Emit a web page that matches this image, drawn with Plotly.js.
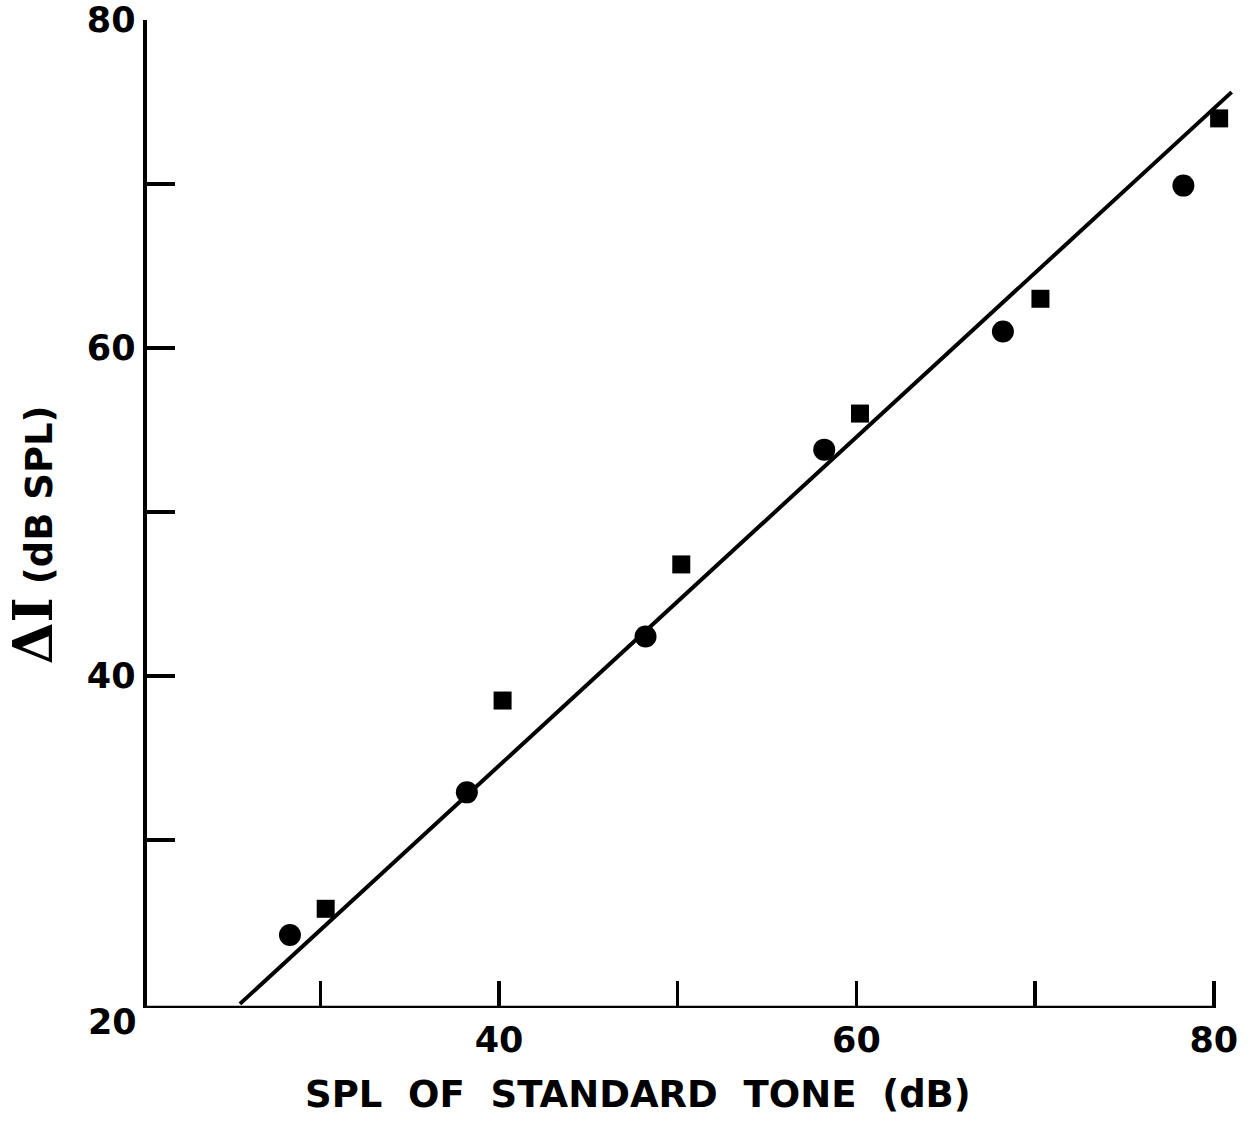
<!DOCTYPE html>
<html>
<head>
<meta charset="utf-8">
<script src="https://cdn.plot.ly/plotly-3.0.1.min.js"></script>
<style>html,body{margin:0;padding:0;background:#fff;}#chart{width:1258px;height:1123px;}</style>
</head>
<body>
<div id="chart"></div>
<script>
// Data
const circleX = [28.3, 38.2, 48.2, 58.2, 68.2, 78.3];
const circleY = [24.2, 32.9, 42.4, 53.8, 61.0, 69.9];
const squareX = [30.3, 40.2, 50.2, 60.2, 70.3, 80.3];
const squareY = [25.8, 38.5, 46.8, 56.0, 63.0, 74.0];
const fitX = [25.5, 81.0];
const fitY = [20.0, 75.6];

const xTickVals = [30, 40, 50, 60, 70, 80];
const xTickText = ['', '40', '', '60', '', '80'];
const yTickVals = [30, 40, 50, 60, 70, 80];
const yTickText = ['', '40', '', '60', '', '80'];
const xRange = [20.3, 81.3];
const yRange = [19.75, 80];

const xTitle = 'SPL\u00A0\u00A0OF\u00A0\u00A0STANDARD\u00A0\u00A0TONE\u00A0\u00A0(dB)';
const yTitle = '<span style="font-family:\'DejaVu Serif\';font-size:54px">\u0394I</span> (dB SPL)';
const originLabel = '20';

const bold = {family: 'DejaVu Sans', size: 35, color: '#000', weight: 700};

const traces = [
  {x: fitX, y: fitY, mode: 'lines', line: {color: '#000', width: 4}, hoverinfo: 'skip', cliponaxis: false},
  {x: circleX, y: circleY, mode: 'markers', marker: {symbol: 'circle', size: 22, color: '#000'}, cliponaxis: false},
  {x: squareX, y: squareY, mode: 'markers', marker: {symbol: 'square', size: 18, color: '#000'}, cliponaxis: false}
];

const layout = {
  width: 1258, height: 1123,
  margin: {l: 147, r: 20.6, t: 20, b: 114.9},
  paper_bgcolor: '#fff', plot_bgcolor: '#fff',
  showlegend: false,
  xaxis: {
    range: xRange, showgrid: false, zeroline: false, showline: false,
    tickmode: 'array', tickvals: xTickVals, ticktext: xTickText,
    ticks: 'inside', ticklen: 27, tickwidth: 3.5, tickcolor: '#000',
    tickfont: bold, ticklabelstandoff: 8
  },
  yaxis: {
    range: yRange, showgrid: false, zeroline: false, showline: true,
    linecolor: '#000', linewidth: 4.5,
    tickmode: 'array', tickvals: yTickVals, ticktext: yTickText,
    ticks: 'inside', ticklen: 28, tickwidth: 3.5, tickcolor: '#000',
    tickfont: bold, ticklabelstandoff: 0
  },
  shapes: [
    {type: 'line', xref: 'x', yref: 'y', x0: xRange[0], x1: 80, y0: yRange[0], y1: yRange[0],
     line: {color: '#000', width: 4.5}}
  ],
  annotations: [
    {text: originLabel, xref: 'paper', yref: 'paper', x: -0.032, y: -0.014, showarrow: false,
     xanchor: 'center', yanchor: 'middle', font: bold},
    {text: xTitle, xref: 'paper', yref: 'paper', x: 0.450, y: -0.088, showarrow: false,
     xanchor: 'center', yanchor: 'middle', font: {family: 'DejaVu Sans', size: 37, color: '#000', weight: 700}},
    {text: yTitle, xref: 'paper', yref: 'paper', x: -0.105, y: 0.479, showarrow: false, textangle: -90,
     xanchor: 'center', yanchor: 'middle', font: {family: 'DejaVu Sans', size: 37, color: '#000', weight: 700}}
  ]
};

Plotly.newPlot('chart', traces, layout, {displayModeBar: false, staticPlot: true});
</script>
</body>
</html>
